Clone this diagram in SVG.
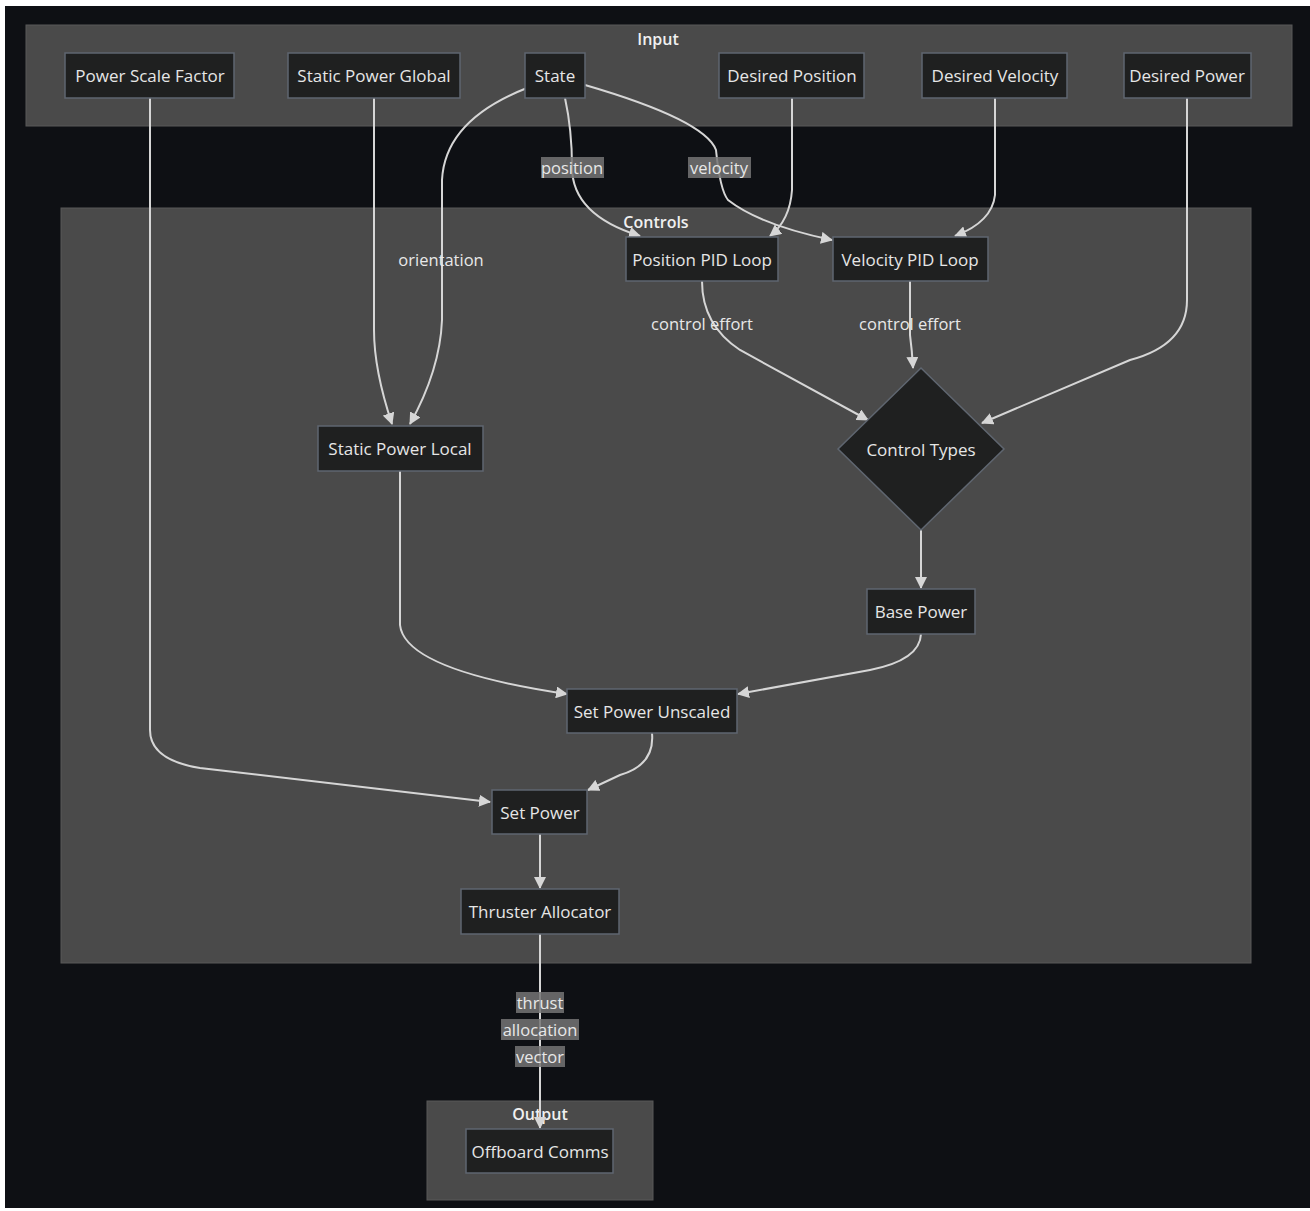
<svg xmlns="http://www.w3.org/2000/svg" width="1310" height="1211" viewBox="0 0 1310 1211">
<style>
.cl{fill:#4a4a4a;stroke:#585858;stroke-width:1}
.ct{fill:#f0f0f0;font-family:"Open Sans","DejaVu Sans",sans-serif;font-size:16px;font-weight:600;text-anchor:middle}
.nd{fill:#1f2020;stroke:#5f6670;stroke-width:1.5}
.nt{fill:#e6e6e6;font-family:"Open Sans","DejaVu Sans",sans-serif;font-size:17px;text-anchor:middle;dominant-baseline:central}
.e{fill:none;stroke:#d6d6d6;stroke-width:2}
.lb{fill:#747474;opacity:0.85}
.lt{fill:#e8e8e8;font-family:"Open Sans","DejaVu Sans",sans-serif;font-size:16.5px;text-anchor:middle;dominant-baseline:central}
</style>
<defs>
<marker id="a" viewBox="0 0 12 12" refX="11" refY="6" markerWidth="12" markerHeight="12" markerUnits="userSpaceOnUse" orient="auto">
<path d="M0,0 L12,6 L0,12 z" fill="#d6d6d6"/>
</marker>
</defs>
<rect x="0" y="0" width="1310" height="1211" fill="#ffffff"/>
<rect x="5" y="6" width="1305" height="1202" fill="#0e1014"/>

<g id="clusters">
<g id="cluster-input"><rect class="cl" x="26" y="25" width="1266" height="101"/><text class="ct" x="658" y="45">Input</text></g>
<g id="cluster-controls"><rect class="cl" x="61" y="208" width="1190" height="755"/><text class="ct" x="656" y="228">Controls</text></g>
<g id="cluster-output"><rect class="cl" x="427" y="1101" width="226" height="99"/><text class="ct" x="540" y="1120">Output</text></g>
</g>

<g id="connectors">
<path class="e" d="M150,98 L150,730 Q150,760 200,768 L490,802" marker-end="url(#a)"/>
<path class="e" d="M374,98 L374,330 Q374,370 392,424" marker-end="url(#a)"/>
<path class="e" d="M527,88 Q445,120 442,180 L442,320 Q440,370 410,424" marker-end="url(#a)"/>
<path class="e" d="M565,98 Q572,130 572,167 Q572,215 640,236" marker-end="url(#a)"/>
<path class="e" d="M585,85 Q705,120 716,150 Q720,190 728,200 Q760,225 832,240" marker-end="url(#a)"/>
<path class="e" d="M792,98 L792,190 Q790,220 770,236" marker-end="url(#a)"/>
<path class="e" d="M995,98 L995,195 Q992,222 955,236" marker-end="url(#a)"/>
<path class="e" d="M1187,98 L1187,300 Q1187,345 1130,360 L982,423" marker-end="url(#a)"/>
<path class="e" d="M702,281 Q702,325 740,350 L868,420" marker-end="url(#a)"/>
<path class="e" d="M910,281 L910,335 Q912,350 913,368" marker-end="url(#a)"/>
<path class="e" d="M921,530 L921,588" marker-end="url(#a)"/>
<path class="e" d="M400,471 L400,625 Q405,670 567,694" marker-end="url(#a)"/>
<path class="e" d="M921,634 Q920,660 870,670 L738,694" marker-end="url(#a)"/>
<path class="e" d="M652,733 Q655,765 620,775 L588,790" marker-end="url(#a)"/>
<path class="e" d="M540,834 L540,888" marker-end="url(#a)"/>
<path class="e" d="M540,934 L540,1128" marker-end="url(#a)"/>
</g>

<g id="edge-labels">
<g><rect class="lb" x="541" y="157" width="63" height="21"/><text class="lt" x="572" y="167">position</text></g>
<g><rect class="lb" x="688" y="157" width="63" height="21"/><text class="lt" x="719" y="167">velocity</text></g>
<g><text class="lt" x="441" y="259">orientation</text></g>
<g><text class="lt" x="702" y="323">control effort</text></g>
<g><text class="lt" x="910" y="323">control effort</text></g>
<g><rect class="lb" x="516" y="992" width="48" height="21"/><text class="lt" x="540" y="1002">thrust</text>
<rect class="lb" x="501" y="1019" width="78" height="21"/><text class="lt" x="540" y="1029">allocation</text>
<rect class="lb" x="515" y="1046" width="50" height="21"/><text class="lt" x="540" y="1056">vector</text></g>
</g>

<g id="node-power-scale-factor"><rect class="nd" x="65" y="53" width="169" height="45"/><text class="nt" x="150" y="75">Power Scale Factor</text></g>
<g id="node-static-power-global"><rect class="nd" x="288" y="53" width="172" height="45"/><text class="nt" x="374" y="75">Static Power Global</text></g>
<g id="node-state"><rect class="nd" x="525" y="53" width="60" height="45"/><text class="nt" x="555" y="75">State</text></g>
<g id="node-desired-position"><rect class="nd" x="719" y="53" width="145" height="45"/><text class="nt" x="792" y="75">Desired Position</text></g>
<g id="node-desired-velocity"><rect class="nd" x="922" y="53" width="145" height="45"/><text class="nt" x="995" y="75">Desired Velocity</text></g>
<g id="node-desired-power"><rect class="nd" x="1124" y="53" width="127" height="45"/><text class="nt" x="1187" y="75">Desired Power</text></g>
<g id="node-position-pid"><rect class="nd" x="626" y="237" width="152" height="44"/><text class="nt" x="702" y="259">Position PID Loop</text></g>
<g id="node-velocity-pid"><rect class="nd" x="833" y="237" width="155" height="44"/><text class="nt" x="910" y="259">Velocity PID Loop</text></g>
<g id="node-static-power-local"><rect class="nd" x="318" y="426" width="165" height="45"/><text class="nt" x="400" y="448">Static Power Local</text></g>
<g id="node-control-types"><polygon class="nd" points="921,368 1004,449 921,530 838,449"/><text class="nt" x="921" y="449">Control Types</text></g>
<g id="node-base-power"><rect class="nd" x="867" y="589" width="108" height="45"/><text class="nt" x="921" y="611">Base Power</text></g>
<g id="node-set-power-unscaled"><rect class="nd" x="567" y="689" width="170" height="44"/><text class="nt" x="652" y="711">Set Power Unscaled</text></g>
<g id="node-set-power"><rect class="nd" x="492" y="790" width="95" height="44"/><text class="nt" x="540" y="812">Set Power</text></g>
<g id="node-thruster-allocator"><rect class="nd" x="461" y="889" width="158" height="45"/><text class="nt" x="540" y="911">Thruster Allocator</text></g>
<g id="node-offboard-comms"><rect class="nd" x="466" y="1129" width="147" height="44"/><text class="nt" x="540" y="1151">Offboard Comms</text></g>
</svg>
